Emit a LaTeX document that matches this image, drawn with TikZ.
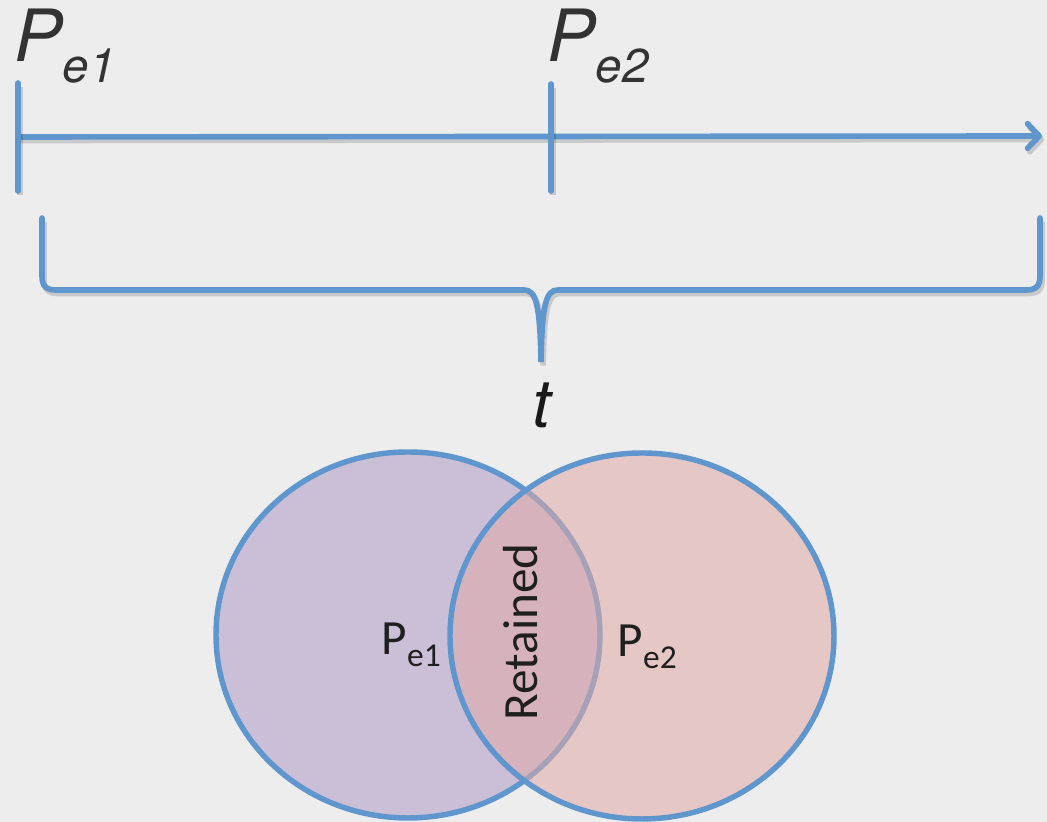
\documentclass[tikz,border=0pt]{standalone}
\usepackage{fontspec}
\setmainfont{Carlito}
\newfontfamily\headfont{TeX Gyre Heros}
\usetikzlibrary{arrows.meta}

\definecolor{bgGray}{HTML}{EDEDED}
\definecolor{lineBlue}{RGB}{95,150,205}
\definecolor{setPurple}{RGB}{203,191,215}
\definecolor{setPink}{RGB}{224,171,167}
\definecolor{labelGray}{HTML}{333333}

\tikzset{
  timeline/.style={draw=lineBlue, line width=1.6pt, line cap=round,
    preaction={draw=black, draw opacity=0.15, line width=1.6pt,
      transform canvas={shift={(0.6pt,-1pt)}}}},
  setline/.style={draw=lineBlue, line width=1.55pt},
  eventlabel/.style={inner sep=0pt, anchor=base west, text=labelGray,
    font=\headfont\itshape\fontsize{20.5}{24}\selectfont},
  setlabel/.style={inner sep=0pt, text=black!88, font=\fontsize{14}{17}\selectfont},
}

\begin{document}
\begin{tikzpicture}[x=0.01cm, y=-0.01cm]
    \useasboundingbox (0,0) rectangle (1047,822);
    \fill[bgGray] (0,0) rectangle (1047,822);

    % time axis
    \coordinate (mark1) at (18,137);
    \coordinate (mark2) at (551,137);
    \coordinate (axisend) at (1042,136);
    \draw[timeline, -{Straight Barb[length=3.3pt,width=7pt,line cap=round,line join=round]}] (mark1) -- (axisend);
    \draw[timeline] (18,83) -- (18,191);
    \draw[timeline] (551,84) -- (551,191);

    \node[eventlabel] (pe1) at (14,62) {P\raisebox{-5.7pt}{\fontsize{13.5}{15}\selectfont e1}};
    \node[eventlabel] (pe2) at (547,62) {P\raisebox{-5.7pt}{\fontsize{13.5}{15}\selectfont e2}};

    % brace over the period
    \draw[timeline] (42,218) -- (42,276) .. controls (42,286) and (46,290) .. (56,290)
        -- (524,290) .. controls (536,290) and (540,304) .. (541,362)
        .. controls (542,304) and (546,290) .. (558,290)
        -- (1026,290) .. controls (1036,290) and (1040,286) .. (1040,276) -- (1040,218);
    \node[inner sep=0pt, text=black!90, font=\headfont\itshape\fontsize{19}{22}\selectfont]
        (t) at (542,405) {t};

    % sets
    \path[setline, fill=setPurple] (408,635) ellipse [x radius=192, y radius=183];
    \path[setline, fill=setPink, fill opacity=0.56] (642,636) ellipse [x radius=192, y radius=183];

    \node[setlabel, anchor=base west] (set1) at (381,655) {P\raisebox{-3.4pt}{\fontsize{9.5}{11}\selectfont e1}};
    \node[setlabel, anchor=base west] (set2) at (617,657) {P\raisebox{-3.4pt}{\fontsize{9.5}{11}\selectfont e2}};
    \node[setlabel, rotate=90] (kept) at (521,632) {Retained};
\end{tikzpicture}
\end{document}
